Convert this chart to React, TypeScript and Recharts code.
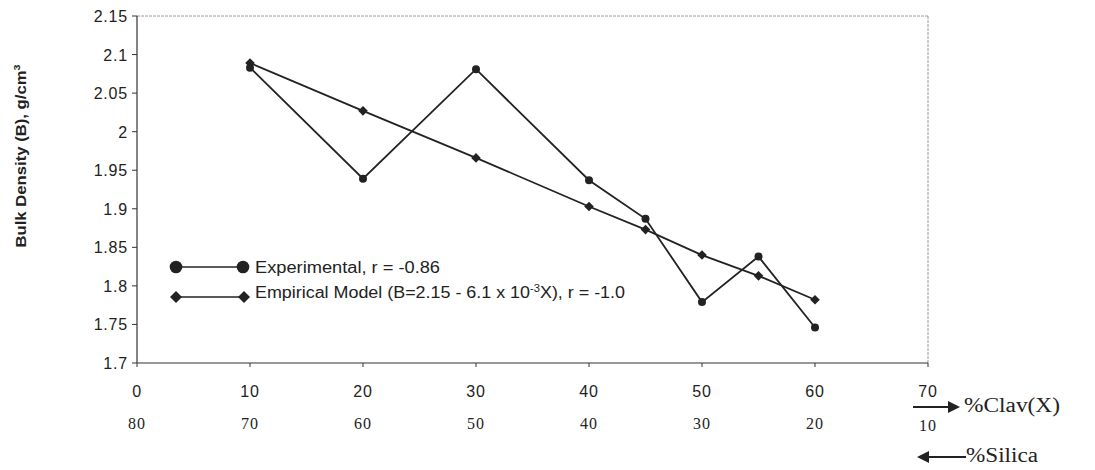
import React from 'react';
import { LineChart, Line, XAxis, YAxis, ReferenceLine } from 'recharts';

const clayX = [10, 20, 30, 40, 45, 50, 55, 60];
const experimental = [2.083, 1.939, 2.081, 1.937, 1.887, 1.779, 1.838, 1.746];
const empirical = [2.089, 2.027, 1.966, 1.903, 1.873, 1.840, 1.813, 1.782];
const clayTicks = [0, 10, 20, 30, 40, 50, 60, 70];
const silicaLabels = ['80', '70', '60', '50', '40', '30', '20', '10'];
const yTicks = [1.7, 1.75, 1.8, 1.85, 1.9, 1.95, 2, 2.05, 2.1, 2.15];

const data = clayX.map((x, i) => ({ x, exp: experimental[i], emp: empirical[i] }));

const SANS = '"Liberation Sans", Arial, Helvetica, sans-serif';
const SERIF = '"Liberation Serif", "Times New Roman", serif';
const INK = '#222';

const XTick = (props: any) => {
  const { x, y, payload, index } = props;
  return (
    <g>
      <text x={x} y={y} dy={28} textAnchor="middle" fontFamily={SANS} fontSize={16} letterSpacing={0.8} fill={INK}>
        {payload.value}
      </text>
      <text x={x} y={y} dy={index === clayTicks.length - 1 ? 62 : 60} textAnchor="middle" fontFamily={SERIF} fontSize={16} letterSpacing={1} fill={INK}>
        {silicaLabels[index]}
      </text>
    </g>
  );
};

const YTick = (props: any) => {
  const { x, y, payload } = props;
  return (
    <text x={x} y={y} dy={6} textAnchor="end" fontFamily={SANS} fontSize={16} letterSpacing={0.8} fill={INK}>
      {String(payload.value)}
    </text>
  );
};

const CircleDot = (props: any) => {
  const { cx, cy } = props;
  if (cx == null || cy == null) return null;
  return <circle cx={cx} cy={cy} r={4} fill={INK} />;
};

const DiamondDot = (props: any) => {
  const { cx, cy } = props;
  if (cx == null || cy == null) return null;
  const s = 4.8;
  return <path d={`M${cx},${cy - s}L${cx + s},${cy}L${cx},${cy + s}L${cx - s},${cy}Z`} fill={INK} />;
};

export default function App() {
  return (
    <div style={{ position: 'absolute', left: 0, top: 0, width: 1095, height: 470, background: '#fff' }}>
      <LineChart width={1095} height={470} data={data} margin={{ top: 16, right: 167, bottom: 47, left: 77 }}>
        <XAxis
          type="number"
          dataKey="x"
          domain={[0, 70]}
          ticks={clayTicks}
          interval={0}
          height={60}
          tickSize={4}
          tickMargin={2}
          tick={<XTick />}
          axisLine={{ stroke: '#333', strokeWidth: 1.2 }}
          tickLine={{ stroke: '#333' }}
        />
        <YAxis
          type="number"
          domain={[1.7, 2.15]}
          ticks={yTicks}
          interval={0}
          width={60}
          tickSize={5}
          tickMargin={4}
          tick={<YTick />}
          axisLine={{ stroke: '#333', strokeWidth: 1.2 }}
          tickLine={{ stroke: '#333' }}
        />
        <ReferenceLine y={2.15} stroke="#9a9a9a" strokeDasharray="3 1" />
        <ReferenceLine x={70} stroke="#9a9a9a" strokeDasharray="3 1" />
        <Line
          dataKey="emp"
          stroke={INK}
          strokeWidth={1.8}
          dot={<DiamondDot />}
          isAnimationActive={false}
        />
        <Line
          dataKey="exp"
          stroke={INK}
          strokeWidth={1.8}
          dot={<CircleDot />}
          isAnimationActive={false}
        />
        {/* Legend */}
        <g>
          <line x1={176} y1={267} x2={243} y2={267} stroke={INK} strokeWidth={1.6} />
          <circle cx={176} cy={267} r={6.3} fill={INK} />
          <circle cx={243} cy={267} r={6.3} fill={INK} />
          <text x={255} y={273} fontFamily={SANS} fontSize={16} fill={INK} textLength={185} lengthAdjust="spacingAndGlyphs">
            Experimental,  r = -0.86
          </text>
          <line x1={176} y1={297} x2={244} y2={297} stroke={INK} strokeWidth={1.6} />
          <path d="M176,291L182,297L176,303L170,297Z" fill={INK} />
          <path d="M244,291L250,297L244,303L238,297Z" fill={INK} />
          <text x={255} y={298} fontFamily={SANS} fontSize={16} fill={INK} textLength={370} lengthAdjust="spacingAndGlyphs">
            Empirical Model (B=2.15 - 6.1 x 10
            <tspan dy={-6} fontSize={10}>-3</tspan>
            <tspan dy={6}>X), r = -1.0</tspan>
          </text>
        </g>
        {/* Y axis title */}
        <text
          x={26}
          y={156}
          transform="rotate(-90 26 156)"
          textAnchor="middle"
          fontFamily={SANS}
          fontSize={14}
          fontWeight="bold"
          fill={INK}
          textLength={183}
          lengthAdjust="spacingAndGlyphs"
        >
          Bulk Density (B), g/cm
          <tspan dy={-6} fontSize={9}>3</tspan>
        </text>
        {/* Axis direction annotations */}
        <g>
          <line x1={913} y1={407} x2={950} y2={407} stroke={INK} strokeWidth={2} />
          <path d="M948,401L960,407L948,413Z" fill={INK} />
          <text x={964} y={412} fontFamily={SERIF} fontSize={20} fill={INK} textLength={96} lengthAdjust="spacingAndGlyphs">
            %Clav(X)
          </text>
          <line x1={925} y1={457} x2={966} y2={457} stroke={INK} strokeWidth={2} />
          <path d="M929,451L917,457L929,463Z" fill={INK} />
          <text x={966} y={462} fontFamily={SERIF} fontSize={20} fill={INK} textLength={72} lengthAdjust="spacingAndGlyphs">
            %Silica
          </text>
        </g>
      </LineChart>
    </div>
  );
}
